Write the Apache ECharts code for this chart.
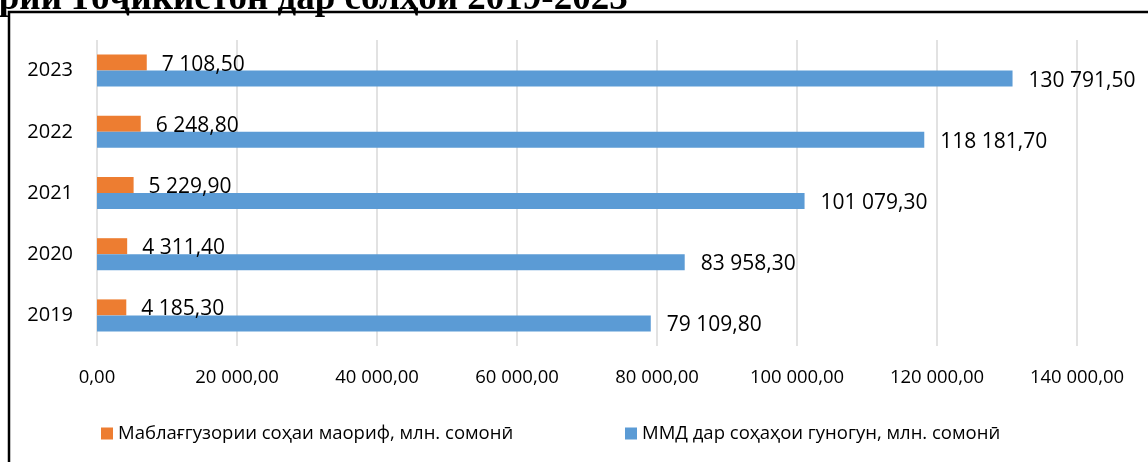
<!DOCTYPE html>
<html>
<head>
<meta charset="utf-8">
<style>
  html, body { margin: 0; padding: 0; background: #fff; }
  #chart { width: 1148px; height: 462px; }
</style>
<script src="https://cdn.jsdelivr.net/npm/echarts@6/dist/echarts.min.js"></script>
</head>
<body>
<div id="chart"></div>
<script>
// годҳо
var years = ['2019', '2020', '2021', '2022', '2023']
// маблағгузории соҳаи маориф
var eduValues = [4185.3, 4311.4, 5229.9, 6248.8, 7108.5]
// ММД
var gdpValues = [79109.8, 83958.3, 101079.3, 118181.7, 130791.5]
var eduName = 'Маблағгузории соҳаи маориф, млн. сомонӣ'
var gdpName = 'ММД дар соҳаҳои гуногун, млн. сомонӣ'
// сарлавҳа (қисман бурида шудааст)
var titleHead = 'Ҷумҳурии'
var titleTail = 'Тоҷикистон дар солҳои 2019-2023'

var fontName = '"Open Sans", sans-serif'
var titleFont = 'bold 37px "Liberation Serif", "Times New Roman", serif'
var gridColor = '#D9D9D9'

// 130791.5 -> "130 791,50"
function fmt(v) {
  var s = Number(v).toFixed(2).split('.')
  s[0] = s[0].replace(/\B(?=(\d{3})+(?!\d))/g, ' ')
  return s[0] + ',' + s[1]
}

var chart = echarts.init(document.getElementById('chart'), null, { renderer: 'canvas' })

chart.setOption({
  animation: false,
  textStyle: { fontFamily: fontName },
  grid: { left: 97, right: 71, top: 40, bottom: 116, containLabel: false },
  graphic: [
    {
      type: 'text',
      style: { text: titleHead, x: 62, y: -1, align: 'right', verticalAlign: 'middle', font: titleFont, fill: '#000' }
    },
    {
      type: 'text',
      style: { text: titleTail, x: 68, y: -1, align: 'left', verticalAlign: 'middle', font: titleFont, fill: '#000' }
    },
    {
      type: 'rect',
      shape: { x: 9, y: 12, width: 1300, height: 600 },
      style: { fill: 'none', stroke: '#000', lineWidth: 2.5 }
    }
  ],
  legend: [
    {
      data: [eduName],
      left: 101,
      top: 424,
      padding: 0,
      icon: 'rect',
      itemWidth: 12,
      itemHeight: 12,
      textStyle: { fontSize: 18.5, color: '#000', fontFamily: fontName }
    },
    {
      data: [gdpName],
      left: 625,
      top: 424,
      padding: 0,
      icon: 'rect',
      itemWidth: 12,
      itemHeight: 12,
      textStyle: { fontSize: 18.5, color: '#000', fontFamily: fontName }
    }
  ],
  xAxis: {
    type: 'value',
    min: 0,
    max: 140000,
    interval: 20000,
    axisLine: { show: false },
    axisTick: { show: false },
    axisLabel: {
      margin: 22,
      fontSize: 18.5,
      color: '#000',
      formatter: fmt
    },
    splitLine: { lineStyle: { color: gridColor, width: 1.5 } }
  },
  yAxis: {
    type: 'category',
    data: years,
    axisLine: { show: false },
    axisTick: { show: false },
    axisLabel: { margin: 24, fontSize: 20, color: '#000' },
    splitLine: { show: false }
  },
  series: [
    {
      name: eduName,
      type: 'bar',
      data: eduValues,
      barWidth: 16,
      barGap: '0%',
      itemStyle: { color: '#ED7D31' },
      label: {
        show: true,
        position: 'right',
        distance: 15,
        offset: [0, 2],
        fontSize: 21,
        color: '#000',
        formatter: function (p) { return fmt(p.value) }
      }
    },
    {
      name: gdpName,
      type: 'bar',
      data: gdpValues,
      barWidth: 16,
      barGap: '0%',
      itemStyle: { color: '#5B9BD5' },
      label: {
        show: true,
        position: 'right',
        distance: 16,
        offset: [0, 2],
        fontSize: 21,
        color: '#000',
        formatter: function (p) { return fmt(p.value) }
      }
    }
  ]
})
</script>
</body>
</html>
